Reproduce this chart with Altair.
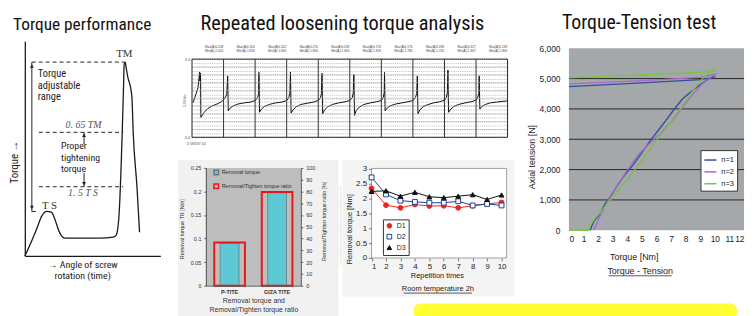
import altair as alt
import pandas as pd

W, H = 747, 308  # drawing surface


def g(v):
    """page pixel -> chart pixel (page has an 8px margin)"""
    return v - 8


SANS = "Liberation Sans"
NARROW = "'Liberation Sans Narrow', 'Roboto Condensed', Roboto, sans-serif"
SERIF = "Liberation Serif"
INK = "#1a1a1a"

# ============================ DATA ============================
panel_titles = ["Torque performance", "Repeated loosening torque analysis", "Torque-Tension test"]

# ---- panel 1: schematic torque curve (x = rotation, y = torque, arbitrary units)
curve_x = [0, 1, 6.7, 11.7, 16.7, 21.7, 26.7, 30, 33.3, 36.7, 40, 55, 75, 88, 91, 92, 94, 95.7,
           97, 98.3, 99, 100, 101, 103, 105, 106.7, 108, 111.7, 114.3]
curve_y = [0, 2, 15, 27, 40, 45, 44, 37, 27, 20, 18, 18, 18, 19, 21, 24, 44, 84,
           124, 170, 194, 196, 190, 179, 172, 160, 124, 70, 24]
dash_x1 = [7, 14, 14, 7]
dash_x2 = [99, 98, 98, 13]
dash_y = [196, 125, 70, 45]
shaft_x = [7, 59, 59]
shaft_y1 = [45, 113, 70]
shaft_y2 = [196, 125, 84]
head_x = [7, 7, 59, 59]
head_y = [192, 49, 122, 73]
head_shape = ["triangle-up", "triangle-down", "triangle-up", "triangle-down"]
p1_block_a = "Torque\nadjustable\nrange"
p1_block_b = "Proper\ntightening\ntorque"
p1_block_a_xy = (13, 184)      # first line position (data units)
p1_block_b_xy = (36, 111)
p1_ital = ["0. 65 TM", "1. 5 T S"]
p1_ital_x = [58.5, 58]
p1_ital_y = [132, 64]
p1_serif = ["T S", "TM"]
p1_serif_x = [17, 91]
p1_serif_y = [50, 204]

# ---- panel 2: repeated loosening trace (x = divisions, y = volts)
osc_t = [0.03, 0.13, 0.19, 0.22, 0.24, 0.25, 0.27, 0.28, 0.38, 0.5, 0.66, 0.82, 0.94, 1.03, 1.10,
         1.13, 1.15, 1.20, 1.30, 1.45, 1.65, 1.85, 2.00, 2.08, 2.11,
         2.12, 2.14, 2.20, 2.30, 2.45, 2.65, 2.85, 3.00, 3.07, 3.10,
         3.12, 3.14, 3.20, 3.30, 3.45, 3.65, 3.85, 4.00, 4.07, 4.10,
         4.12, 4.14, 4.20, 4.30, 4.45, 4.65, 4.85, 5.00, 5.08, 5.11,
         5.13, 5.15, 5.20, 5.30, 5.45, 5.65, 5.85, 6.00, 6.06, 6.09,
         6.10, 6.12, 6.20, 6.30, 6.45, 6.65, 6.85, 7.00, 7.08, 7.12,
         7.14, 7.16, 7.22, 7.32, 7.45, 7.65, 7.85, 8.00, 8.06, 8.09,
         8.11, 8.13, 8.20, 8.30, 8.45, 8.65, 8.85, 9.00, 9.06, 9.09,
         9.10, 9.12, 9.20, 9.30, 9.45, 9.65, 9.85, 9.98]
osc_v = [-0.57, 0.57, 1.33, 2.47, 3.35, 2.2, 3.2, -2.45, -1.84, -1.33, -0.95, -0.7, -0.44, -0.06, 0.44,
         2.85, -1.6, -1.3, -1.0, -0.75, -0.6, -0.5, -0.3, 0.1, 0.6,
         3.3, -1.8, -1.4, -1.05, -0.8, -0.6, -0.5, -0.3, 0.1, 0.6,
         3.35, -1.9, -1.5, -1.1, -0.8, -0.65, -0.5, -0.3, 0.05, 0.6,
         3.2, -2.0, -1.5, -1.1, -0.8, -0.6, -0.45, -0.3, 0.1, 0.7,
         3.05, -2.2, -1.6, -1.15, -0.8, -0.6, -0.45, -0.3, 0.1, 0.7,
         3.3, -1.6, -1.2, -0.95, -0.75, -0.6, -0.45, -0.3, 0.1, 0.6,
         2.85, -2.0, -1.5, -1.1, -0.85, -0.6, -0.45, -0.25, 0.1, 0.7,
         3.6, -1.8, -1.4, -1.05, -0.8, -0.6, -0.45, -0.25, 0.15, 0.7,
         2.85, -1.4, -1.0, -0.8, -0.6, -0.5, -0.4, -0.35]
osc_div = [1, 2, 3, 4, 5, 6, 7, 8, 9]
osc_major_v = [-4, -3, -2, -1, 0, 1, 2, 3, 4]
hdr_x = [0.7, 1.7, 2.7, 3.7, 4.7, 5.7, 6.7, 7.7, 8.7, 9.7]
hdr_max = ["Max(A)0.208", "Max(A)0.204", "Max(A)0.202", "Max(A)0.270", "Max(A)0.208",
           "Max(A)0.176", "Max(A)0.176", "Max(A)0.188", "Max(A)0.327", "Max(A)0.283"]
hdr_min = ["Min(A)-2.020", "Min(A)-1.816", "Min(A)-1.800", "Min(A)-1.800", "Min(A)-1.805",
           "Min(A)-1.816", "Min(A)-1.785", "Min(A)-1.745", "Min(A)-1.807", "Min(A)-1.800"]

# ---- panel 3: removal torque bars
bar_cats = ["P-TITE", "GIZA TITE"]
removal_torque = [0.090, 0.197]
torque_ratio = [36.7, 79.6]

# ---- panel 4: repeated removal torque
reps = [1, 2, 3, 4, 5, 6, 7, 8, 9, 10]
d1 = [2.33, 1.77, 1.68, 1.79, 1.74, 1.75, 1.68, 1.75, 1.81, 1.86]
d2 = [2.70, 2.13, 1.92, 1.88, 1.85, 1.85, 1.90, 1.76, 1.81, 1.76]
d3 = [2.23, 2.25, 2.07, 2.20, 2.05, 2.02, 2.07, 2.12, 1.96, 2.11]
series4 = ["D1", "D2", "D3"]

# ---- panel 5: torque-tension curves (load then unload)
n1_x = [1.47, 1.6, 1.75, 2.05, 2.48, 2.9, 3.27, 3.8, 4.4, 5.0, 5.53, 6.1, 6.66, 7.2, 7.79, 8.35,
        8.92, 9.3, 9.6, 10.05, 9.7, 9.0, 5.0, 0]
n1_y = [0, 180, 330, 480, 880, 1150, 1449, 1800, 2157, 2560, 2920, 3280, 3627, 3980, 4335, 4560,
        4771, 4900, 4989, 5076, 5020, 4965, 4860, 4738]
n2_x = [1.69, 1.85, 2.03, 2.4, 2.82, 3.4, 3.95, 4.4, 4.85, 5.4, 5.85, 6.0, 6.2, 6.6, 7.11, 7.7,
        8.24, 8.7, 9.14, 9.5, 9.82, 10.1, 10.0, 9.0, 5.0, 0]
n2_y = [0, 150, 360, 720, 1122, 1530, 1939, 2250, 2538, 2800, 3000, 3100, 3120, 3380, 3627, 4000,
        4335, 4600, 4826, 4960, 5065, 5174, 5150, 5040, 4930, 4826]
n3_x = [0, 1.35, 1.5, 1.8, 2.14, 2.8, 3.5, 4.2, 4.85, 5.5, 6.2, 6.9, 7.56, 8.1, 8.69, 9.14, 9.48,
        10.05, 9.3, 8.9, 0]
n3_y = [0, 0, 196, 400, 577, 990, 1394, 1800, 2211, 2640, 3083, 3520, 3954, 4330, 4717, 4989, 5153,
        5316, 5240, 5200, 5022]
series5 = ["n=1", "n=2", "n=3"]
tension_grid = [1000, 2000, 3000, 4000, 5000]

IND = dict(x="independent", y="independent")

# ============================ PANEL 1 ============================
sx1 = alt.Scale(domain=[0, 135], range=[g(25), g(162)], nice=False, zero=False)
sy1 = alt.Scale(domain=[0, 217], range=[g(257), g(40)], nice=False, zero=False)
ax1 = alt.Axis(orient="bottom", offset=g(257) - H, domainColor=INK, domainWidth=1.3,
               ticks=False, labels=False, grid=False, title=None)
ay1 = alt.Axis(orient="left", offset=-g(25), domainColor=INK, domainWidth=1.3,
               ticks=False, labels=False, grid=False, title=None)


def X1(f, axis=None):
    return alt.X(f, scale=sx1, axis=axis)


def Y1(f, axis=None):
    return alt.Y(f, scale=sy1, axis=axis)


def p1_block(text, xy, lh, size):
    return alt.Chart(pd.DataFrame({"x": [xy[0]], "y": [xy[1]], "t": [text]})).mark_text(
        align="left", font=NARROW, fontSize=size, lineBreak="\n", lineHeight=lh, color="#222").encode(
        x=X1("x:Q"), y=Y1("y:Q"), text="t:N")


p1_curve = alt.Chart(pd.DataFrame({"x": curve_x, "y": curve_y})).mark_line(
    color=INK, strokeWidth=1.3, interpolate="monotone").encode(x=X1("x:Q", ax1), y=Y1("y:Q", ay1))
p1_dash = alt.Chart(pd.DataFrame({"x": dash_x1, "x2": dash_x2, "y": dash_y})).mark_rule(
    color="#222", strokeDash=[4, 3], strokeWidth=1).encode(x=X1("x:Q"), x2="x2:Q", y=Y1("y:Q"))
p1_shaft = alt.Chart(pd.DataFrame({"x": shaft_x, "y": shaft_y1, "y2": shaft_y2})).mark_rule(
    color="#222", strokeWidth=1).encode(x=X1("x:Q"), y=Y1("y:Q"), y2="y2:Q")
p1_heads = alt.Chart(pd.DataFrame({"x": head_x, "y": head_y, "s": head_shape})).mark_point(
    filled=True, size=16, color="#222", opacity=1).encode(
    x=X1("x:Q"), y=Y1("y:Q"), shape=alt.Shape("s:N", scale=None))
p1_it = alt.Chart(pd.DataFrame({"x": p1_ital_x, "y": p1_ital_y, "t": p1_ital})).mark_text(
    align="center", font=SERIF, fontStyle="italic", fontSize=10, color="#555").encode(
    x=X1("x:Q"), y=Y1("y:Q"), text="t:N")
p1_sf = alt.Chart(pd.DataFrame({"x": p1_serif_x, "y": p1_serif_y, "t": p1_serif})).mark_text(
    align="left", font=SERIF, fontSize=11, color="#333").encode(x=X1("x:Q"), y=Y1("y:Q"), text="t:N")
panel1 = alt.layer(p1_curve, p1_dash, p1_shaft, p1_heads,
                   p1_block(p1_block_a, p1_block_a_xy, 11.8, 10.5),
                   p1_block(p1_block_b, p1_block_b_xy, 11.5, 10),
                   p1_it, p1_sf).resolve_axis(**IND)

# ============================ PANEL 2 ============================
sx2 = alt.Scale(domain=[0, 10], range=[g(194), g(513)], nice=False, zero=False)
sy2 = alt.Scale(domain=[-5, 5], range=[g(137), g(58)], nice=False, zero=False)
minor_x = [round(i * 0.1, 1) for i in range(1, 100) if i % 10]
minor_y = [round(-5 + i * 0.5, 1) for i in range(21)]
ax2 = alt.Axis(orient="bottom", offset=g(137) - H, values=minor_x, grid=True, gridDash=[1, 1.2],
               gridColor="#8c8c8c", gridWidth=0.6, labels=False, ticks=False, domain=False, title=None)
ay2 = alt.Axis(orient="left", offset=-g(194), values=minor_y, grid=True, gridDash=[1, 1.2],
               gridColor="#8c8c8c", gridWidth=0.6,
               labelExpr="datum.value == 5 ? '5.0' : (datum.value == -5 ? '-5.0' : '')",
               labelFontSize=4, labelPadding=2, labelColor="#444", ticks=False, domain=False, title=None)


def X2(f, axis=None):
    return alt.X(f, scale=sx2, axis=axis)


def Y2(f, axis=None):
    return alt.Y(f, scale=sy2, axis=axis)


p2_trace = alt.Chart(pd.DataFrame({"t": osc_t, "v": osc_v, "i": list(range(len(osc_t)))})).mark_line(
    color="#111", strokeWidth=1).encode(x=X2("t:Q", ax2), y=Y2("v:Q", ay2), order="i:Q")
p2_h = alt.Chart(pd.DataFrame({"y": osc_major_v, "x": [0] * 9, "x2": [10] * 9})).mark_rule(
    color="#b3b3b3", strokeWidth=0.6).encode(x=X2("x:Q"), x2="x2:Q", y=Y2("y:Q"))
p2_div = alt.Chart(pd.DataFrame({"x": osc_div, "y": [-5] * 9, "y2": [5] * 9})).mark_rule(
    color="#333", strokeWidth=1).encode(x=X2("x:Q"), y=Y2("y:Q"), y2="y2:Q")
p2_frame = alt.Chart(pd.DataFrame({"x": [0], "x2": [10], "y": [-5], "y2": [5]})).mark_rect(
    fillOpacity=0, stroke="#222", strokeWidth=1).encode(x=X2("x:Q"), x2="x2:Q", y=Y2("y:Q"), y2="y2:Q")
p2_hdr1 = alt.Chart(pd.DataFrame({"x": hdr_x, "t": hdr_max, "y": [6.6] * 10})).mark_text(
    fontSize=3.2, font=SANS, color="#444").encode(x=X2("x:Q"), y=Y2("y:Q"), text="t:N")
p2_hdr2 = alt.Chart(pd.DataFrame({"x": hdr_x, "t": hdr_min, "y": [6.05] * 10})).mark_text(
    fontSize=3.2, font=SANS, color="#444").encode(x=X2("x:Q"), y=Y2("y:Q"), text="t:N")
panel2 = alt.layer(p2_trace, p2_h, p2_div, p2_frame, p2_hdr1, p2_hdr2).resolve_axis(**IND)

p2_notes = alt.layer(
    alt.Chart(pd.DataFrame({"t": ["5.0V/div"]})).mark_text(angle=270, fontSize=3.5, font=SANS, color="#444").encode(
        text="t:N", x=alt.value(g(187)), y=alt.value(g(100))),
    alt.Chart(pd.DataFrame({"t": ["0        5S/DIV    50"]})).mark_text(align="left", fontSize=3.5, font=SANS, color="#444").encode(
        text="t:N", x=alt.value(g(189)), y=alt.value(g(144))),
)

# ============================ PANEL 3 ============================
sx3 = alt.Scale(domain=bar_cats, range=[g(208), g(304)], paddingInner=0, paddingOuter=0)
sy3 = alt.Scale(domain=[0, 0.25], range=[g(287), g(168)], nice=False, zero=True)
sy3r = alt.Scale(domain=[0, 100], range=[g(287), g(168)], nice=False, zero=True)
ax3 = alt.Axis(orient="bottom", offset=g(287) - H, labelFontSize=5.5, labelFontWeight="bold",
               labelColor="#333", labelPadding=4, labelAngle=0, ticks=False, domainColor="#555",
               title=None, zindex=1)
ay3 = alt.Axis(orient="left", offset=-g(208), values=[0, 0.05, 0.1, 0.15, 0.2, 0.25],
               labelExpr="format(datum.value, '~g')",
               labelFontSize=5.5, labelColor="#333", tickSize=2, tickColor="#555", domainColor="#555",
               labelPadding=3, grid=False, title=None, zindex=1)
ay3r = alt.Axis(orient="right", offset=g(304) - W, values=[0, 10, 20, 30, 40, 50, 60, 70, 80, 90, 100],
                labelExpr="format(datum.value, 'd')",
                labelFontSize=5.5, labelColor="#333", tickSize=2, tickColor="#555", domainColor="#555",
                labelPadding=3, grid=False, title=None, zindex=1)
df3 = pd.DataFrame({"c": bar_cats, "v": removal_torque, "r": torque_ratio,
                    "l1": ["Removal torque"] * 2, "l2": ["Removal/Tighten torque ratio"] * 2})
leg3a = alt.Legend(orient="none", legendX=g(215), legendY=g(169), title=None, labelFontSize=5.5,
                   labelColor="#333", symbolSize=22, padding=0, labelOffset=2)
leg3b = alt.Legend(orient="none", legendX=g(215), legendY=g(183), title=None, labelFontSize=5.5,
                   labelColor="#333", symbolSize=22, symbolStrokeWidth=1.5, padding=0, labelOffset=2)
p3_cyan = alt.Chart(df3).mark_bar(width=19, stroke="#6b7a7f", strokeWidth=0.8).encode(
    x=alt.X("c:N", scale=sx3, axis=ax3, sort=bar_cats),
    y=alt.Y("v:Q", scale=sy3, axis=ay3),
    fill=alt.Fill("l1:N", scale=alt.Scale(domain=["Removal torque"], range=["#5cc9d4"]), legend=leg3a))
p3_red = alt.Chart(df3).mark_bar(filled=False, width=31, strokeWidth=2).encode(
    x=alt.X("c:N", scale=sx3, axis=None, sort=bar_cats),
    y=alt.Y("r:Q", scale=sy3r, axis=ay3r),
    stroke=alt.Stroke("l2:N", scale=alt.Scale(domain=["Removal/Tighten torque ratio"], range=["#e3191c"]),
                      legend=leg3b))
panel3 = alt.layer(p3_cyan, p3_red).resolve_scale(y="independent").resolve_axis(**IND)

# ============================ PANEL 4 ============================
sx4 = alt.Scale(domain=[1, 10.35], range=[g(375.5), g(512)], nice=False, zero=False)
sy4 = alt.Scale(domain=[0, 3], range=[g(259), g(168.5)], nice=False, zero=True)
ax4 = alt.Axis(orient="bottom", offset=g(259) - H, values=reps, labelExpr="format(datum.value, 'd')",
               labelFontSize=8, labelColor="#222", tickSize=3, tickColor="#777", domain=False,
               labelPadding=2, title=None, zindex=1)
ay4 = alt.Axis(orient="left", offset=-g(375.5), values=[0, 0.5, 1, 1.5, 2, 2.5, 3],
               labelExpr="format(datum.value, '~g')",
               labelFontSize=8, labelColor="#222", tickSize=3, tickColor="#777", domain=False,
               labelPadding=2, grid=False, title=None, zindex=1)
df4 = pd.DataFrame({"rep": reps * 3, "v": d1 + d2 + d3, "s": [s for s in series4 for _ in reps]})
c4 = alt.Scale(domain=series4, range=["#e8261f", "#1f3f9a", "#111111"])
sh4 = alt.Scale(domain=series4, range=["circle", "square", "triangle-up"])
f4 = alt.Scale(domain=series4, range=["#e8261f", "#ffffff", "#111111"])
leg4 = alt.Legend(orient="none", legendX=g(387), legendY=g(220), title=None, fillColor="white",
                  strokeColor="#333", padding=3, labelFontSize=7, labelColor="#222", symbolSize=22,
                  symbolStrokeWidth=1, rowPadding=2)
p4_frame = alt.Chart(pd.DataFrame({"x": [1], "x2": [10.35], "y": [0], "y2": [3]})).mark_rect(
    fill="white", stroke="#8a8a8a", strokeWidth=0.8).encode(
    x=alt.X("x:Q", scale=sx4, axis=ax4), x2="x2:Q", y=alt.Y("y:Q", scale=sy4, axis=ay4), y2="y2:Q")
p4_line = alt.Chart(df4).mark_line(strokeWidth=1).encode(
    x=alt.X("rep:Q", scale=sx4, axis=None), y=alt.Y("v:Q", scale=sy4, axis=None),
    color=alt.Color("s:N", scale=c4, legend=None))
p4_pts = alt.Chart(df4).mark_point(size=24, strokeWidth=1, opacity=1).encode(
    x=alt.X("rep:Q", scale=sx4, axis=None), y=alt.Y("v:Q", scale=sy4, axis=None),
    color=alt.Color("s:N", scale=c4, legend=leg4),
    shape=alt.Shape("s:N", scale=sh4, legend=leg4),
    fill=alt.Fill("s:N", scale=f4, legend=leg4))
panel4 = alt.layer(p4_frame, p4_line, p4_pts).resolve_axis(**IND).resolve_legend(
    color="independent", shape="independent", fill="independent")

# ============================ PANEL 5 ============================
sx5 = alt.Scale(domain=[0, 12], range=[g(575), g(752)], nice=False, zero=False)
sy5 = alt.Scale(domain=[0, 6000], range=[g(231), g(47)], nice=False, zero=True)
ax5 = alt.Axis(orient="bottom", offset=g(231) - H, values=list(range(0, 13)),
               labelExpr="format(datum.value, 'd')",
               labelFontSize=8.5, labelColor="#222", ticks=False, domain=False, labelPadding=4,
               title=None, zindex=1)
ay5 = alt.Axis(orient="left", offset=-g(575), values=[0, 1000, 2000, 3000, 4000, 5000, 6000],
               labelExpr="format(datum.value, ',')",
               labelFontSize=8.5, labelColor="#222", ticks=False, domain=False,
               labelPadding=9, grid=False, title=None, zindex=1)
rows5 = []
for name, xs, ys in [("n=1", n1_x, n1_y), ("n=2", n2_x, n2_y), ("n=3", n3_x, n3_y)]:
    for i, (a, b) in enumerate(zip(xs, ys)):
        rows5.append({"s": name, "x": a, "y": b, "i": i})
df5 = pd.DataFrame(rows5)
leg5 = alt.Legend(orient="none", legendX=g(708), legendY=g(150), title=None, fillColor="white",
                  strokeColor="#333", padding=3, labelFontSize=7.5, labelColor="#222",
                  symbolType="stroke", symbolSize=150, symbolStrokeWidth=1.5, rowPadding=1)
p5_bg = alt.Chart(pd.DataFrame({"x": [0], "x2": [12], "y": [0], "y2": [6000]})).mark_rect(
    fill="#a4a8ab").encode(x=alt.X("x:Q", scale=sx5, axis=ax5), x2="x2:Q",
                           y=alt.Y("y:Q", scale=sy5, axis=ay5), y2="y2:Q")
p5_grid = alt.Chart(pd.DataFrame({"y": tension_grid, "x": [0] * 5, "x2": [12] * 5})).mark_rule(
    color="#262626", strokeWidth=1).encode(x=alt.X("x:Q", scale=sx5, axis=None), x2="x2:Q",
                                            y=alt.Y("y:Q", scale=sy5, axis=None))
p5_lines = alt.Chart(df5).mark_line(strokeWidth=1.3).encode(
    x=alt.X("x:Q", scale=sx5, axis=None), y=alt.Y("y:Q", scale=sy5, axis=None), order="i:Q",
    color=alt.Color("s:N", scale=alt.Scale(domain=series5, range=["#2e4ea1", "#a96ac6", "#7cc243"]),
                    legend=leg5))
panel5 = alt.layer(p5_bg, p5_grid, p5_lines).resolve_axis(**IND)


# ============================ TEXT & DECOR ============================
def label(t, x, y, size=8, font=SANS, angle=0, align="center", color="#222", weight="normal",
          baseline="middle", line_height=None):
    kw = {} if line_height is None else {"lineBreak": "\n", "lineHeight": line_height}
    return alt.Chart(pd.DataFrame({"t": [t]})).mark_text(
        fontSize=size, font=font, angle=angle, align=align, color=color, fontWeight=weight,
        baseline=baseline, **kw).encode(text="t:N", x=alt.value(g(x)), y=alt.value(g(y)))


def box(x1, x2, y1, y2, color, radius=0):
    return alt.Chart(pd.DataFrame({"a": [0]})).mark_rect(fill=color, cornerRadius=radius).encode(
        x=alt.value(g(x1)), x2=alt.value(g(x2)), y=alt.value(g(y1)), y2=alt.value(g(y2)))


def underline(x1, x2, y):
    return alt.Chart(pd.DataFrame({"a": [0]})).mark_rule(color="#333", strokeWidth=0.8).encode(
        x=alt.value(g(x1)), x2=alt.value(g(x2)), y=alt.value(g(y)))


decor = [
    box(180, 342, 160, 320, "#f1f1f1"),
    box(346, 520, 160, 298, "#f4f4f4"),
    box(208, 304, 168, 287, "#bdbdbd"),
]
texts = [
    label(panel_titles[0], 83, 29, size=17.5, font=NARROW, baseline="alphabetic", color="#111"),
    label(panel_titles[1], 346, 29, size=20.5, font=NARROW, baseline="alphabetic", color="#111"),
    label(panel_titles[2], 646, 28, size=20, font=NARROW, baseline="alphabetic", color="#111"),
    label("Torque  \u2192", 15, 162, size=11, font=NARROW, angle=270),
    label("\u2192  Angle of screw\nrotation (time)", 83.5, 266, size=10, font=NARROW, line_height=11),
    label("Removal torque TR [Nm]", 184, 230, size=5.5, angle=270, color="#333"),
    label("Removal/Tighten torque ratio [%]", 327, 222, size=5.5, angle=270, color="#333"),
    label("Removal torque and\nRemoval/Tighten  torque ratio", 256.5, 302.5, size=7, color="#333",
          line_height=9.5),
    label("Removal torque [Nm]", 354, 230, size=7.5, angle=270),
    label("Repetition times", 442, 277, size=7.5),
    label("Room temperature  2h", 442.5, 290.5, size=7.5),
    label("Axial tension [N]", 538, 157, size=9, angle=270),
    label("Torque [Nm]", 641, 258, size=9),
    label("Torque - Tension", 647, 272.5, size=9),
    underline(408, 477, 294.5),
    underline(615, 679, 277),
    box(418, 745, 305, 320, "#ffff33", radius=7),
]

chart = alt.layer(
    *decor, panel1, panel2, p2_notes, panel3, panel4, panel5, *texts
).resolve_scale(
    x="independent", y="independent", color="independent", shape="independent",
    fill="independent", stroke="independent"
).properties(
    width=W, height=H, padding=0, autosize=alt.AutoSizeParams(type="none")
).configure_view(strokeWidth=0).configure_axis(labelFont=SANS, titleFont=SANS).configure_legend(labelFont=SANS)

chart.save("out.html", embed_options={"renderer": "svg", "actions": False})
